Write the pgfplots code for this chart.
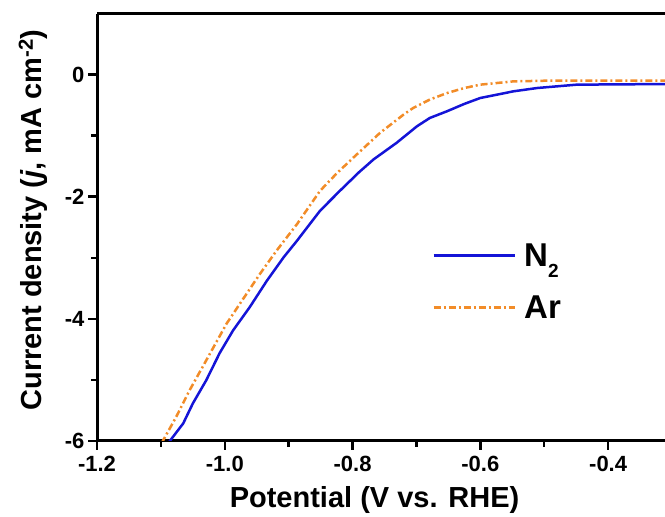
\documentclass[border=0pt]{standalone}
\usepackage{pgfplots}
\pgfplotsset{compat=1.18}
\usepackage{fontspec}
\setmainfont{Liberation Sans}
\definecolor{cblue}{RGB}{20,20,215}
\definecolor{corange}{RGB}{242,140,40}
\begin{document}
\begin{tikzpicture}
\useasboundingbox (0,0) rectangle (665bp,517bp);
\begin{axis}[
  at={(97bp,76bp)}, anchor=south west,
  scale only axis, width=568bp, height=427.5bp,
  xmin=-1.2, xmax=-0.311, ymin=-6, ymax=1,
  axis x line*=box, axis y line*=left,
  axis line style={line width=3bp, -},
  xtick={-1.2,-1,-0.8,-0.6,-0.4},
  minor xtick={-1.1,-0.9,-0.7,-0.5},
  ytick={-6,-4,-2,0}, minor ytick={-5,-3,-1},
  xtick pos=bottom, ytick pos=left,
  tick align=outside,
  major tick length=9bp, minor tick length=6bp,
  every tick/.style={black, line width=2.5bp},
  /pgf/number format/assume math mode=true,
  xticklabel style={font=\fontsize{22bp}{26bp}\selectfont\bfseries, yshift=-3bp,
    /pgf/number format/.cd, fixed, fixed zerofill, precision=1},
  yticklabel style={font=\fontsize{22bp}{26bp}\selectfont\bfseries},
  xlabel={Potential (V vs. RHE)},
  xlabel style={at={(axis description cs:0.4886,-0.1544)}, anchor=base, inner sep=0pt,
    font=\fontsize{29bp}{34bp}\selectfont\bfseries},
  ylabel={Current density (\textit{j}, mA cm\textsuperscript{-2})},
  ylabel style={at={(axis description cs:-0.0863,0.517)}, anchor=south, inner sep=0pt,
    font=\fontsize{29bp}{34bp}\selectfont\bfseries},
  legend style={at={(axis description cs:0.5898,0.462)}, anchor=north west,
    draw=none, fill=none, inner sep=0pt, row sep=28bp,
    font=\fontsize{33bp}{38bp}\selectfont\bfseries,
    nodes={inner sep=0pt}},
  legend cell align=left,
  legend image code/.code={\draw[#1, line width=3bp] (0bp,0bp) -- (81bp,0bp);},
]
\addplot[cblue, line width=2.5bp] coordinates {
(-1.100,-6.19) (-1.086,-6.0) (-1.065,-5.711) (-1.050,-5.385) (-1.029,-5.005)
(-1.008,-4.560) (-0.987,-4.189) (-0.961,-3.809) (-0.934,-3.374) (-0.908,-2.993)
(-0.887,-2.721) (-0.851,-2.231) (-0.820,-1.905) (-0.790,-1.60) (-0.767,-1.388) (-0.731,-1.117)
(-0.699,-0.845) (-0.679,-0.710) (-0.652,-0.600) (-0.625,-0.48) (-0.600,-0.383) (-0.548,-0.274)
(-0.511,-0.220) (-0.449,-0.165) (-0.310,-0.155)
};
\addlegendentry{\hspace*{8bp}N\raisebox{-11bp}{\fontsize{19bp}{20bp}\selectfont 2}}
\addplot[corange, line width=2.5bp, dash pattern=on 7bp off 3bp on 2bp off 3bp] coordinates {
(-1.110,-6.25) (-1.097,-6.0) (-1.076,-5.604) (-1.055,-5.168) (-1.029,-4.679)
(-0.997,-4.075) (-0.966,-3.591) (-0.945,-3.264) (-0.919,-2.884) (-0.887,-2.449)
(-0.851,-1.905) (-0.825,-1.62) (-0.799,-1.362) (-0.757,-0.954) (-0.720,-0.654) (-0.705,-0.546)
(-0.679,-0.409) (-0.652,-0.302) (-0.625,-0.22) (-0.600,-0.165) (-0.548,-0.111) (-0.496,-0.100)
(-0.310,-0.100)
};
\addlegendentry{\hspace*{8bp}Ar}
\end{axis}
\end{tikzpicture}
\end{document}
